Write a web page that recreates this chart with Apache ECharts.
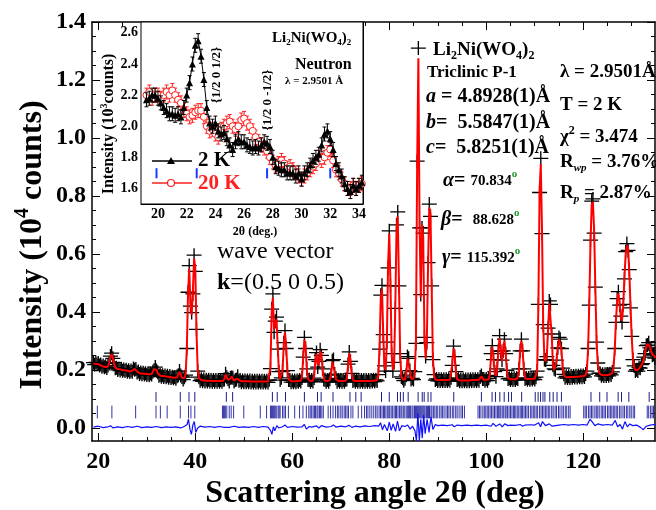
<!DOCTYPE html>
<html><head><meta charset="utf-8">
<script src="https://cdn.jsdelivr.net/npm/echarts@6/dist/echarts.min.js"></script>
<style>html,body{margin:0;padding:0;background:#fff}#c{width:656px;height:510px}</style>
</head><body><div id="c"></div>
<script>
// ---------- DATA ----------
const tthStart = 19, tthStep = 0.25;   // measurement grid (deg)
const yCalc = [
.222,.221,.221,.220,.220,.218,.216,.214,.212,.211,.210,.210,.212,.225,.244,.255,.243,.222,.209,.205,
.203,.202,.202,.201,.200,.199,.199,.198,.197,.196,.195,.195,.197,.202,.204,.200,.194,.191,.189,.188,
.188,.187,.187,.186,.186,.185,.185,.185,.186,.191,.202,.207,.201,.189,.183,.180,.180,.179,.179,.178,
.178,.177,.176,.176,.175,.174,.174,.173,.173,.175,.185,.193,.184,.173,.170,.172,.185,.270,.460,.550,
.430,.390,.470,.585,.550,.330,.200,.172,.166,.165,.164,.164,.163,.163,.163,.163,.163,.162,.162,.162,
.162,.162,.162,.162,.162,.162,.162,.163,.170,.184,.178,.166,.163,.170,.177,.170,.163,.162,.170,.175,
.166,.162,.161,.161,.161,.161,.161,.161,.161,.161,.160,.160,.160,.160,.160,.160,.160,.160,.160,.160,
.160,.160,.160,.160,.160,.163,.210,.400,.450,.340,.360,.375,.280,.190,.168,.170,.200,.290,.330,.280,
.195,.168,.162,.161,.161,.161,.161,.161,.161,.162,.162,.163,.175,.240,.305,.280,.200,.168,.163,.162,
.162,.163,.175,.230,.255,.215,.225,.265,.255,.200,.170,.163,.162,.162,.162,.165,.185,.228,.230,.190,
.168,.162,.162,.162,.162,.162,.162,.162,.163,.170,.215,.258,.235,.185,.165,.162,.162,.162,.162,.162,
.162,.162,.162,.162,.162,.162,.162,.162,.162,.162,.163,.163,.163,.163,.165,.180,.280,.450,.480,.330,
.210,.200,.290,.560,.670,.500,.250,.200,.220,.420,.690,.730,.500,.250,.180,.168,.166,.167,.185,.240,
.245,.195,.170,.168,.170,.190,.300,.900,1.275,.700,.450,.700,.660,.320,.240,.300,.560,.760,.740,.480,
.240,.180,.168,.166,.165,.165,.165,.165,.165,.165,.165,.165,.165,.165,.166,.170,.220,.275,.250,.190,
.168,.165,.164,.164,.164,.164,.164,.164,.164,.164,.164,.165,.165,.165,.165,.165,.165,.165,.166,.172,
.178,.172,.166,.166,.166,.166,.168,.185,.250,.280,.240,.190,.180,.200,.270,.310,.270,.230,.270,.300,
.260,.195,.172,.168,.168,.168,.168,.168,.168,.168,.172,.200,.270,.300,.270,.200,.172,.169,.169,.169,
.169,.169,.170,.170,.170,.172,.200,.420,.820,.910,.680,.350,.240,.230,.250,.340,.430,.430,.320,.220,
.200,.205,.230,.280,.305,.310,.270,.210,.182,.176,.175,.175,.175,.175,.176,.176,.176,.177,.177,.177,
.177,.178,.178,.178,.178,.179,.183,.200,.270,.430,.640,.770,.780,.680,.480,.300,.220,.192,.185,.183,
.182,.182,.182,.183,.183,.184,.184,.186,.190,.210,.270,.370,.440,.465,.430,.380,.370,.420,.520,.600,
.630,.620,.540,.420,.310,.240,.210,.200,.198,.200,.205,.210,.215,.225,.240,.260,.280,.290,.290,.280,
.265,.255,.250,.245,.245];
const yObs = [
.225,.218,.226,.219,.224,.215,.219,.211,.215,.209,.213,.207,.215,.222,.248,.258,.240,.225,.206,.208,
.200,.205,.198,.204,.197,.202,.196,.201,.194,.199,.193,.198,.194,.205,.201,.203,.191,.195,.186,.191,
.185,.190,.184,.189,.183,.188,.182,.188,.184,.194,.199,.210,.198,.192,.180,.183,.177,.182,.176,.181,
.175,.180,.173,.179,.172,.177,.171,.176,.170,.178,.182,.196,.181,.176,.167,.175,.182,.274,.468,.560,
.420,.398,.462,.596,.540,.340,.196,.175,.163,.168,.161,.167,.160,.166,.160,.166,.160,.165,.159,.165,
.159,.165,.159,.165,.159,.165,.159,.166,.167,.187,.175,.169,.160,.173,.174,.173,.160,.165,.167,.178,
.163,.165,.158,.164,.158,.164,.158,.164,.158,.164,.157,.163,.157,.163,.157,.163,.157,.163,.157,.163,
.157,.163,.157,.163,.157,.166,.205,.410,.462,.330,.368,.382,.272,.194,.165,.173,.196,.294,.336,.274,
.198,.165,.165,.158,.164,.158,.164,.158,.164,.159,.165,.160,.172,.244,.312,.274,.204,.165,.166,.159,
.165,.160,.172,.236,.260,.210,.230,.270,.250,.204,.167,.166,.159,.165,.159,.168,.182,.232,.236,.186,
.171,.159,.165,.159,.165,.159,.165,.159,.166,.167,.220,.262,.230,.188,.162,.165,.159,.165,.159,.165,
.159,.165,.159,.165,.159,.165,.159,.165,.159,.165,.160,.166,.160,.166,.162,.184,.272,.458,.492,.322,
.214,.196,.296,.552,.680,.490,.256,.196,.226,.412,.700,.745,.490,.256,.176,.171,.163,.170,.182,.246,
.240,.198,.167,.171,.167,.194,.292,.920,1.310,.690,.460,.690,.672,.312,.246,.294,.570,.772,.730,.490,
.236,.184,.165,.169,.162,.168,.162,.168,.162,.168,.162,.168,.162,.168,.163,.173,.216,.282,.246,.194,
.165,.168,.161,.167,.161,.167,.161,.167,.161,.167,.161,.168,.162,.168,.162,.168,.162,.168,.163,.176,
.181,.169,.169,.163,.169,.163,.171,.181,.256,.284,.236,.194,.177,.204,.266,.318,.264,.234,.266,.306,
.256,.199,.169,.171,.165,.171,.165,.171,.165,.171,.169,.204,.266,.306,.266,.204,.169,.172,.166,.172,
.166,.172,.167,.173,.167,.175,.196,.426,.812,.930,.670,.356,.236,.234,.246,.344,.438,.426,.324,.216,
.204,.201,.234,.276,.312,.306,.274,.206,.185,.173,.178,.172,.178,.172,.179,.173,.179,.174,.180,.174,
.180,.175,.181,.175,.181,.176,.186,.196,.274,.424,.648,.782,.790,.672,.486,.296,.224,.189,.188,.180,
.185,.179,.185,.179,.186,.180,.187,.183,.193,.206,.274,.364,.446,.470,.424,.386,.364,.426,.514,.608,
.636,.612,.546,.414,.316,.236,.214,.196,.201,.196,.208,.206,.218,.222,.244,.256,.284,.286,.294,.276,
.268,.251,.253,.241,.248];
const diffCurve = [
[19,0.003],[20,0.006],[21,0.001],[22,0.004],[22.6,0.007],[23,0.000],[24,0.004],[25,0.001],[26,0.005],[27,0.002],
[28,0.006],[29,0.001],[30,0.004],[31,0.002],[32,0.005],[33,0.001],[34,0.004],[35,0.002],[36,0.004],[37,0.000],
[37.8,0.006],[38.3,0.012],[38.6,0.030],[38.9,-0.005],[39.2,-0.022],[39.5,0.010],[39.8,0.022],[40.1,-0.015],[40.5,0.000],[41,0.006],
[42,0.003],[43,0.005],[44,0.002],[45,0.005],[46,0.002],[46.3,0.008],[47,0.002],[48,0.006],[49,0.002],[50,0.004],
[51,0.002],[52,0.005],[53,0.002],[54,0.005],[55,0.003],[55.5,-0.008],[55.8,-0.022],[56.1,0.004],[56.4,-0.010],[56.8,0.008],
[57.2,0.000],[58,0.004],[58.5,0.010],[59,0.002],[60,0.005],[61,0.003],[62,0.004],[62.5,0.012],[62.9,-0.004],[63.5,0.005],
[64,0.003],[65,0.007],[65.5,0.000],[66,0.008],[67,0.003],[68,0.005],[68.5,0.010],[69,0.003],[70,0.006],[71,0.004],
[71.7,0.009],[72.3,0.002],[73,0.006],[74,0.004],[75,0.007],[76,0.005],[77,0.008],[77.8,0.006],[78.2,0.018],[78.6,-0.006],
[79,0.012],[79.6,-0.010],[80,0.020],[80.4,-0.008],[80.8,0.014],[81.3,-0.012],[81.7,0.024],[82.1,-0.010],[82.6,0.008],[83.2,0.005],
[83.8,0.010],[84.3,-0.004],[84.8,0.006],[85.3,-0.010],[85.6,-0.045],[85.9,0.050],[86.2,-0.045],[86.5,0.030],[86.8,-0.035],[87.1,0.045],
[87.4,-0.020],[87.8,0.030],[88.2,-0.015],[88.6,0.038],[89,-0.005],[89.5,0.012],[90,0.008],[91,0.010],[92,0.008],[93,0.011],
[93.4,0.004],[94,0.010],[95,0.008],[96,0.010],[97,0.008],[98,0.010],[99,0.008],[100,0.010],[101,0.006],[101.4,0.016],
[102,0.006],[102.8,0.014],[103.3,0.004],[103.8,0.014],[104.5,0.008],[105,0.010],[106,0.009],[107,0.012],[107.5,0.006],[108,0.010],
[109,0.011],[110,0.010],[110.8,0.018],[111.2,0.004],[111.6,0.022],[112.2,0.008],[113,0.014],[113.6,0.006],[114,0.012],[115,0.010],
[116,0.012],[117,0.010],[118,0.012],[119,0.010],[120,0.012],[120.8,0.010],[121.4,0.030],[121.9,0.020],[122.4,0.008],[123,0.014],
[124,0.010],[125,0.012],[126,0.010],[126.6,0.026],[127.1,0.004],[127.6,0.012],[128.1,-0.004],[128.6,0.022],[129.1,0.004],[129.6,0.014],
[130.2,0.008],[131,0.010],[131.8,0.002],[132.4,-0.006],[133,0.006],[133.8,0.010],[134.5,0.012],[135,0.010]];
const nuclearTicks = [31.9,36.9,38.7,39.9,46.4,47.7,55.9,56.9,58.6,62.5,65.2,65.95,68.4,71.9,73.1,74.2,78.4,80.0,81.7,82.3,
82.9,83.9,85.95,86.8,87.2,88.0,88.6,93.3,99.0,101.2,101.9,102.8,103.7,104.6,105.2,107.3,110.1,110.7,111.2,111.7,
112.1,113.1,113.8,114.6,115.5,121.6,123.4,124.9,127.2,127.9,129.4,133.6];
const magneticTicks = [19.8,22.8,27.7,31.9,32.8,34.2,36.9,38.6,39.1,39.9,45.6,45.8,46.0,46.2,46.5,47.0,47.4,47.9,50.0,53.4,
54.7,55.5,55.7,55.9,56.1,56.3,56.5,56.8,57.1,57.3,57.5,58.0,58.3,58.6,59.2,60.5,61.5,62.2,62.9,63.4,
63.7,64.0,64.3,64.6,64.8,65.1,65.3,65.6,65.8,66.1,66.4,67.4,67.9,68.4,68.9,69.3,69.6,70.0,70.3,70.7,
71.0,71.3,71.6,72.1,72.5,73.6,74.3,74.9,75.3,75.6,76.0,76.4,76.8,77.2,77.5,77.9,78.2,78.5,78.8,79.0,
79.3,79.6,79.9,80.1,80.4,80.7,81.0,81.3,81.5,81.8,82.1,82.4,82.6,82.9,83.2,83.5,83.8,84.0,84.2,84.4,
84.7,84.9,85.2,85.4,85.6,85.8,86.0,86.2,86.4,86.6,86.8,87.0,87.2,87.4,87.7,87.9,88.1,88.3,88.6,88.8,
89.1,89.4,89.7,90.0,90.4,90.7,91.0,91.3,91.7,92.0,92.3,92.6,93.0,93.3,93.7,94.0,94.4,94.8,95.1,95.5,
98.3,98.6,98.9,99.3,99.6,99.9,100.2,100.5,100.8,101.1,101.4,101.7,102.0,102.3,102.5,102.8,103.0,103.3,103.6,103.9,
104.1,104.4,104.7,105.0,105.3,105.6,105.8,106.1,106.4,106.7,107.0,107.3,107.5,107.8,108.1,108.4,108.7,109.1,109.4,109.7,
110.0,110.3,110.6,111.0,111.3,111.6,111.9,112.2,112.5,112.8,113.1,113.5,113.8,114.2,114.5,114.9,115.2,115.6,115.9,116.3,
116.6,117.0,117.3,120.1,120.4,120.7,121.1,121.4,121.7,122.0,122.4,122.7,123.0,123.3,123.7,124.0,124.3,124.6,125.0,125.3,
125.6,125.9,126.2,126.5,126.8,127.1,127.5,127.8,128.2,128.5,128.9,129.2,129.6,129.9,130.3,130.6,133.2,133.5,133.9,134.2,134.5];
// inset (10^3 counts)
const insetStart = 19.2, insetStep = 0.2;
const i2K = [2.17,2.18,2.20,2.20,2.18, 2.15,2.12,2.10,2.08,2.08, 2.07,2.08,2.06,2.12,2.20, 2.28,2.40,2.52,2.55,2.45,
2.30,2.12,2.02,2.00,2.02, 1.97,1.95,1.96,1.92,1.88, 1.85,1.90,1.92,1.90,1.90, 1.88,1.87,1.86,1.87,1.86,
1.88,1.90,1.89,1.87,1.80, 1.74,1.73,1.72,1.72,1.70, 1.70,1.70,1.68,1.70,1.66, 1.70,1.72,1.75,1.78,1.80,
1.82,1.88,1.95,1.97,1.92, 1.85,1.76,1.72,1.68,1.63, 1.60,1.58,1.62,1.60,1.62, 1.64];
const i20K = [2.20,2.22,2.18,2.20,2.20, 2.18,2.20,2.22,2.20,2.23, 2.20,2.17,2.15,2.10,2.08, 2.06,2.07,2.09,2.10,2.10,
2.06,2.00,1.97,1.98,1.95, 1.93,1.98,2.00,2.02,2.03, 2.00,1.98,2.00,2.04,2.05, 2.02,2.00,1.97,1.93,1.90,
1.88,1.86,1.84,1.80,1.77, 1.75,1.76,1.78,1.76,1.73, 1.74,1.72,1.70,1.68,1.66, 1.68,1.70,1.72,1.74,1.76,
1.80,1.78,1.80,1.83,1.85, 1.78,1.72,1.70,1.66,1.63, 1.60,1.60,1.62,1.60,1.62, 1.63];
const insetErr = 0.045;
const insetMagTicks = [19.9, 22.7, 27.6, 32.0];
// tick labels
const xMajor = [20,40,60,80,100,120];
const xMinor = [25,30,35,45,50,55,65,70,75,85,90,95,105,110,115,125,130];
const yMajor = [0,0.2,0.4,0.6,0.8,1.0,1.2,1.4];
const yMinor = [0.05,0.1,0.15,0.25,0.3,0.35,0.45,0.5,0.55,0.65,0.7,0.75,0.85,0.9,0.95,1.05,1.1,1.15,1.25,1.3,1.35];
const insetXMajor = [20,22,24,26,28,30,32,34];
const insetXMinor = [19,21,23,25,27,29,31,33];
const insetYMajor = [1.6,1.8,2.0,2.2,2.4,2.6];
const insetYMinor = [1.7,1.9,2.1,2.3,2.5];

// ---------- CHART ----------
const FF = '"Liberation Serif","Times New Roman",serif';
const obsData = yObs.map((v,i)=>[tthStart+i*tthStep, v]);
const calcData = yCalc.map((v,i)=>[tthStart+i*tthStep, v]);
const d2K = i2K.map((v,i)=>[insetStart+i*insetStep, v]);
const d20K = i20K.map((v,i)=>[insetStart+i*insetStep, v]);

function tickRow(y0,y1,color,w){
  return function(p,api){
    const x=api.value(0); const a=api.coord([x,y0]); const b=api.coord([x,y1]);
    return {type:'line',shape:{x1:a[0],y1:a[1],x2:b[0],y2:b[1]},style:{stroke:color,lineWidth:w}};
  };
}
function errBar(color,half){
  return function(p,api){
    const x=api.value(0), v=api.value(1);
    const a=api.coord([x,v-half]), b=api.coord([x,v+half]);
    const st={stroke:color,lineWidth:1};
    return {type:'group',children:[
      {type:'line',shape:{x1:a[0],y1:a[1],x2:b[0],y2:b[1]},style:st},
      {type:'line',shape:{x1:a[0]-2,y1:a[1],x2:a[0]+2,y2:a[1]},style:st},
      {type:'line',shape:{x1:b[0]-2,y1:b[1],x2:b[0]+2,y2:b[1]},style:st}]};
  };
}
const lblFont = {fontFamily:FF,fontWeight:'bold',fontSize:24,color:'#000'};
const inFont = {fontFamily:FF,fontWeight:'bold',fontSize:14,color:'#000'};
const XMIN=18.7, XMAX=134.8, YMIN=-0.045, YMAX=1.4;
const IXMIN=18.82, IXMAX=34.28, IYMIN=1.5, IYMAX=2.67;
function ax(grid,pos,min,max,line,ticks,len,labels,lab,margin,fmt){
  return {gridIndex:grid,type:'value',position:pos,min:min,max:max,splitLine:{show:false},
    axisLine:{show:line,onZero:false,lineStyle:{color:'#000',width:grid===0?1.5:1}},
    axisTick:{show:true,inside:true,length:len,customValues:ticks,lineStyle:{color:'#000',width:1}},
    axisLabel:labels?Object.assign({show:true,customValues:ticks,margin:margin,formatter:fmt},lab):{show:false}};
}
const f1 = v=>v.toFixed(1);
const fi = v=>String(Math.round(v));

function sub(fs){return {fontSize:Math.round(fs*0.62),fontWeight:'bold',fontFamily:FF,verticalAlign:'bottom',lineHeight:Math.round(fs*0.62)};}
function sup(fs){return {fontSize:Math.round(fs*0.62),fontWeight:'bold',fontFamily:FF,verticalAlign:'top',lineHeight:Math.round(fs*0.62)};}
function T(x,y,text,fs,extra){
  extra=extra||{};
  const st={text:text,font:(extra.weight||'bold')+' '+fs+'px '+FF,fill:extra.fill||'#000',
    align:extra.align||'left',verticalAlign:'middle',lineHeight:Math.round(fs*1.25)};
  if(extra.rich) st.rich=extra.rich;
  return {type:'text',x:x,y:y,rotation:extra.rot||0,z:100,style:st,silent:true};
}
const fsP=20;
const paramRich = {
  s:sub(fsP), u:sup(fsP),
  i:{fontSize:fsP,fontWeight:'bold',fontStyle:'italic',fontFamily:FF},
  si:{fontSize:11,fontWeight:'bold',fontStyle:'italic',fontFamily:FF,verticalAlign:'bottom',lineHeight:11},
  n:{fontSize:15,fontWeight:'bold',fontFamily:FF},
  d:{fontSize:11,fontWeight:'bold',fontFamily:FF,fill:'#1f9a2a',verticalAlign:'top',lineHeight:12}
};

const option = {
  animation:false,
  backgroundColor:'#fff',
  grid:[
    {left:92,top:22,width:563,height:419,show:false},
    {left:141,top:22,width:222,height:182,show:true,backgroundColor:'#fff',borderColor:'#000',borderWidth:1,z:5}
  ],
  xAxis:[
    ax(0,'bottom',XMIN,XMAX,true,xMajor,8,true,lblFont,9,fi),
    ax(0,'bottom',XMIN,XMAX,false,xMinor,4,false),
    ax(0,'top',XMIN,XMAX,true,xMajor,8,false),
    ax(0,'top',XMIN,XMAX,false,xMinor,4,false),
    ax(1,'bottom',IXMIN,IXMAX,true,insetXMajor,5,true,inFont,3,fi),
    ax(1,'bottom',IXMIN,IXMAX,false,insetXMinor,3,false)
  ],
  yAxis:[
    ax(0,'left',YMIN,YMAX,true,yMajor,8,true,lblFont,6,f1),
    ax(0,'left',YMIN,YMAX,false,yMinor,4,false),
    ax(0,'right',YMIN,YMAX,true,yMajor,8,false),
    ax(0,'right',YMIN,YMAX,false,yMinor,4,false),
    ax(1,'left',IYMIN,IYMAX,true,insetYMajor,5,true,inFont,3,f1),
    ax(1,'left',IYMIN,IYMAX,false,insetYMinor,3,false),
    ax(1,'right',IYMIN,IYMAX,true,insetYMajor,5,false)
  ],
  series:[
    {type:'scatter',xAxisIndex:0,yAxisIndex:0,data:obsData,symbol:'path://M0,5L10,5M5,0L5,10',symbolSize:[15,14],
     itemStyle:{color:'rgba(0,0,0,0)',borderColor:'#000',borderWidth:1.3,opacity:1},silent:true,z:2,clip:true},
    {type:'line',xAxisIndex:0,yAxisIndex:0,data:calcData,showSymbol:false,lineStyle:{color:'#ff0000',width:2},silent:true,z:3,clip:true},
    {type:'line',xAxisIndex:0,yAxisIndex:0,data:diffCurve,showSymbol:false,lineStyle:{color:'#1010ff',width:1.2},silent:true,z:3,clip:true},
    {type:'custom',xAxisIndex:0,yAxisIndex:0,data:nuclearTicks.map(v=>[v,0.1]),encode:{x:0,y:1},renderItem:tickRow(0.09,0.124,'#1c1c8a',1),silent:true,z:3,clip:true},
    {type:'custom',xAxisIndex:0,yAxisIndex:0,data:magneticTicks.map(v=>[v,0.05]),encode:{x:0,y:1},renderItem:tickRow(0.033,0.077,'#3434a8',1),silent:true,z:3,clip:true},
    // inset
    {type:'custom',xAxisIndex:4,yAxisIndex:4,data:d20K,encode:{x:0,y:1},renderItem:errBar('#ff2020',insetErr),silent:true,z:10,clip:true},
    {type:'line',xAxisIndex:4,yAxisIndex:4,data:d20K,symbol:'circle',symbolSize:7,itemStyle:{color:'#fff',borderColor:'#ff2020',borderWidth:1},lineStyle:{color:'#ff2020',width:1},silent:true,z:11,clip:true},
    {type:'custom',xAxisIndex:4,yAxisIndex:4,data:d2K,encode:{x:0,y:1},renderItem:errBar('#000',insetErr),silent:true,z:12,clip:true},
    {type:'line',xAxisIndex:4,yAxisIndex:4,data:d2K,symbol:'triangle',symbolSize:7,itemStyle:{color:'#000'},lineStyle:{color:'#000',width:1},silent:true,z:13,clip:true},
    {type:'custom',xAxisIndex:4,yAxisIndex:4,data:insetMagTicks.map(v=>[v,1.7]),encode:{x:0,y:1},renderItem:tickRow(1.665,1.73,'#1a3cff',2),silent:true,z:14,clip:true}
  ],
  graphic:[
    // main axis titles
    T(375,494,'Scattering angle 2θ (deg)',32,{align:'center'}),
    T(33,245,'Intensity (10{u|4} counts)',32,{align:'center',rot:Math.PI/2,rich:{u:sup(32)}}),
    // parameters
    T(433,50,'Li{s|2}Ni(WO{s|4}){s|2}',19,{rich:paramRich}),
    T(427,73,'Triclinic P-1',17),
    T(426,97,'{i|a} = 4.8928(1)Å',fsP,{rich:paramRich}),
    T(426,123,'{i|b}=  5.5847(1)Å',fsP,{rich:paramRich}),
    T(426,148,'{i|c}=  5.8251(1)Å',fsP,{rich:paramRich}),
    T(443,181,'{i|α}= {n|70.834}{d|o}',fsP,{rich:paramRich}),
    T(441,220,'{i|β}=  {n|88.628}{d|o}',fsP,{rich:paramRich}),
    T(442,258,'{i|γ}= {n|115.392}{d|o}',fsP,{rich:paramRich}),
    T(560,72,'λ = 2.9501Å',19),
    T(560,105,'T = 2 K',19),
    T(560,137,'χ{u|2} = 3.474',19,{rich:paramRich}),
    T(560,162,'R{si|wp} = 3.76%',19,{rich:paramRich}),
    T(560,193,'R{si|p} = 2.87%',19,{rich:paramRich}),
    T(217,252,'wave vector',24,{weight:'normal'}),
    T(217,283,'{b|k}=(0.5 0 0.5)',24,{weight:'normal',rich:{b:{fontSize:24,fontWeight:'bold',fontFamily:FF}}}),
    // inset texts
    T(272,38,'Li{s|2}Ni(WO{s|4}){s|2}',15,{rich:{s:sub(15)}}),
    T(295,65,'Neutron',16),
    T(285,81,'λ = 2.9501 Å',11),
    T(217,75,'{1/2 0 1/2}',13,{align:'center',rot:Math.PI/2,weight:'bold'}),
    T(268,100,'{1/2 0 -1/2}',13,{align:'center',rot:Math.PI/2,weight:'bold'}),
    T(255,232,'2θ (deg.)',12,{align:'center'}),
    T(109,124,'Intensity (10{u|3}counts)',16,{align:'center',rot:Math.PI/2,rich:{u:sup(16)}}),
    // inset legend
    {type:'line',shape:{x1:152,y1:161,x2:192,y2:161},style:{stroke:'#000',lineWidth:1.5},z:100},
    {type:'polygon',shape:{points:[[171,157],[175,164],[167,164]]},style:{fill:'#000'},z:100},
    T(198,161,'2 K',21),
    {type:'line',shape:{x1:152,y1:183,x2:192,y2:183},style:{stroke:'#ff2020',lineWidth:1.5},z:100},
    {type:'circle',shape:{cx:171,cy:183,r:3.5},style:{fill:'#fff',stroke:'#ff2020',lineWidth:1.2},z:101},
    T(198,184,'20 K',21,{fill:'#ff2020'})
  ]
};
const chart = echarts.init(document.getElementById('c'),null,{renderer:'canvas'});
chart.setOption(option);
</script></body></html>
